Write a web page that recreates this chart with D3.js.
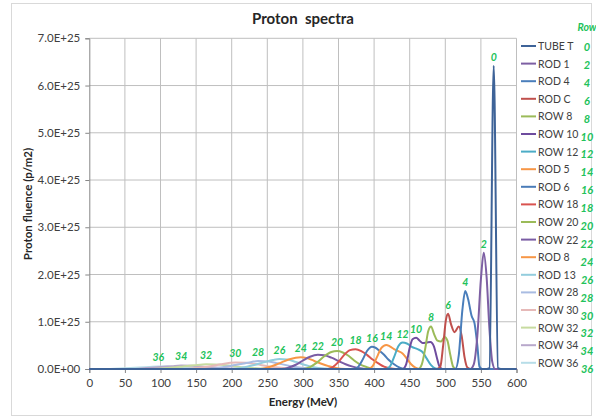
<!DOCTYPE html>
<html><head><meta charset="utf-8">
<script src="https://cdn.jsdelivr.net/npm/d3@7"></script>
<style>
body{margin:0;background:#fff;}
text{font-family:Lato,"Open Sans","Liberation Sans",sans-serif;}
</style></head>
<body><svg id="c" width="596" height="419"></svg>
<script>
// ---- data (energy MeV, fluence in units of 1E25 p/m2) ----
const seriesNames = ["TUBE T","ROD 1","ROD 4","ROD C","ROW 8","ROW 10","ROW 12","ROD 5","ROD 6","ROW 18","ROW 20","ROW 22","ROD 8","ROD 13","ROW 28","ROW 30","ROW 32","ROW 34","ROW 36"];
const rowNumbers = [0,2,4,6,8,10,12,14,16,18,20,22,24,26,28,30,32,34,36];
const seriesColors = ["#3E6398","#7D5FA3","#4A7EBB","#C0504D","#9BBB59","#6E4C9E","#4BACC6","#F79646","#4A7CB8","#D9534F","#9BBB59","#7A5CA4","#F79646","#93CDDD","#A9BCE2","#E6B9B8","#C7DBA0","#B8A8CB","#B7DDE8"];
const xTicks = [0,50,100,150,200,250,300,350,400,450,500,550,600];
const yTicks = [0,1e25,2e25,3e25,4e25,5e25,6e25,7e25];

const tubeT = [[0,0],[558,0],[562,0.02],[568,6.42],[574,0.02],[578,0],[600,0]];
const rod1 = [[0,0],[535,0],[540,0.1],[545,0.7],[550,1.9],[554,2.46],[558,1.95],[562,0.85],[566,0.15],[570,0],[600,0]];
const rod4 = [[0,0],[514,0],[519,0.3],[524,1.25],[528,1.65],[532,1.48],[537,1.12],[541,0.97],[545,0.5],[548,0.05],[552,0],[600,0]];
const rodC = [[0,0],[488,0],[493,0.05],[497,0.5],[501,1.05],[504,1.17],[508,0.95],[513,0.78],[519,0.9],[523,0.7],[527,0.25],[531,0.03],[535,0],[600,0]];
const row8 = [[0,0],[462,0],[467,0.1],[472,0.45],[476,0.8],[480,0.9],[484,0.75],[489,0.6],[494,0.58],[499,0.68],[503,0.6],[507,0.3],[511,0.05],[515,0],[600,0]];
const row10 = [[0,0],[440,0],[445,0.1],[450,0.45],[454,0.63],[459,0.66],[464,0.6],[468,0.55],[474,0.56],[479,0.57],[484,0.48],[488,0.25],[492,0.05],[496,0],[600,0]];
const row12 = [[0,0],[416,0],[422,0.05],[428,0.25],[434,0.48],[440,0.56],[446,0.54],[453,0.47],[461,0.42],[468,0.36],[474,0.22],[480,0.08],[486,0.01],[490,0],[600,0]];
const rod5 = [[0,0],[392,0],[398,0.06],[404,0.25],[410,0.44],[417,0.51],[422,0.48],[428,0.42],[434,0.38],[440,0.33],[446,0.22],[452,0.1],[458,0.03],[465,0],[600,0]];
const rod6 = [[0,0],[372,0],[378,0.05],[384,0.2],[390,0.38],[397,0.47],[402,0.45],[408,0.38],[414,0.3],[420,0.2],[428,0.1],[436,0.03],[444,0],[600,0]];
const row18 = [[0,0],[335,0],[342,0.04],[350,0.15],[358,0.3],[366,0.4],[374,0.42],[382,0.38],[390,0.3],[398,0.2],[406,0.12],[414,0.05],[422,0.015],[430,0],[600,0]];
const row20 = [[0,0],[300,0],[310,0.04],[320,0.14],[330,0.27],[340,0.36],[348,0.38],[356,0.35],[364,0.28],[372,0.18],[380,0.1],[390,0.04],[400,0],[600,0]];
const row22 = [[0,0],[270,0],[280,0.03],[290,0.09],[300,0.18],[310,0.26],[321,0.3],[330,0.29],[340,0.24],[350,0.17],[360,0.1],[370,0.05],[380,0.015],[390,0],[600,0]];
const rod8 = [[0,0],[240,0],[250,0.03],[260,0.08],[270,0.14],[280,0.2],[290,0.24],[297,0.25],[306,0.23],[316,0.17],[326,0.11],[336,0.06],[346,0.02],[360,0],[600,0]];
const rod13 = [[0,0],[200,0],[215,0.03],[230,0.08],[245,0.14],[258,0.19],[267,0.21],[278,0.2],[290,0.15],[302,0.09],[315,0.04],[330,0.01],[345,0],[600,0]];
const row28 = [[0,0],[170,0],[185,0.03],[200,0.07],[215,0.11],[228,0.15],[237,0.17],[252,0.16],[265,0.12],[280,0.07],[295,0.03],[310,0.01],[325,0],[600,0]];
const row30 = [[0,0],[130,0],[150,0.02],[170,0.06],[185,0.1],[198,0.13],[205,0.14],[220,0.13],[235,0.1],[250,0.06],[265,0.03],[280,0.01],[300,0],[600,0]];
const row32 = [[0,0],[90,0],[110,0.02],[130,0.05],[148,0.08],[164,0.1],[176,0.095],[192,0.08],[208,0.05],[225,0.025],[245,0.01],[265,0],[600,0]];
const row34 = [[0,0],[60,0],[80,0.02],[100,0.04],[116,0.06],[129,0.075],[144,0.07],[160,0.05],[178,0.03],[198,0.012],[220,0],[600,0]];
const row36 = [[0,0],[30,0],[50,0.015],[70,0.03],[85,0.045],[97,0.055],[112,0.05],[128,0.04],[146,0.025],[165,0.012],[190,0],[600,0]];
const seriesData = [tubeT,rod1,rod4,rodC,row8,row10,row12,rod5,rod6,row18,row20,row22,rod8,rod13,row28,row30,row32,row34,row36];

// ---- drawing ----
const svg = d3.select("#c");
const L = 89.3, R = 516.5, T = 38.3, B = 369;
const x = d3.scaleLinear().domain([0,600]).range([L,R]);
const y = d3.scaleLinear().domain([0,7e25]).range([B,T]);
const UNIT = 1e25;

svg.append("rect").attr("x",11.5).attr("y",3.5).attr("width",580).attr("height",412)
  .attr("fill","#fff").attr("stroke","#D9D9D9");

// gridlines
svg.append("g").selectAll("line.v").data(xTicks.slice(1)).join("line")
  .attr("x1",d=>x(d)).attr("x2",d=>x(d)).attr("y1",T).attr("y2",B)
  .attr("stroke","#BFBFBF").attr("stroke-width",1);
svg.append("g").selectAll("line.h").data(yTicks.slice(1)).join("line")
  .attr("x1",L).attr("x2",R).attr("y1",d=>y(d)).attr("y2",d=>y(d))
  .attr("stroke","#BFBFBF").attr("stroke-width",1);

// axes
const fmtY = v => v===0 ? "0.0E+00" : (v/UNIT).toFixed(1)+"E+25";
const yAxis = svg.append("g").attr("transform",`translate(${L},0)`)
  .call(d3.axisLeft(y).tickValues(yTicks).tickFormat(fmtY).tickSize(4).tickPadding(5));
const xAxis = svg.append("g").attr("transform",`translate(0,${B})`)
  .call(d3.axisBottom(x).tickValues(xTicks).tickSize(4).tickPadding(6));
[yAxis,xAxis].forEach(a=>{
  a.select(".domain").attr("stroke","#868686");
  a.selectAll(".tick line").attr("stroke","#868686");
  a.selectAll(".tick text").attr("fill","#404040").attr("font-size","11.5px")
   .attr("font-family","Lato,'Open Sans',sans-serif");
});

// series
const line = d3.line().x(d=>x(d[0])).y(d=>y(d[1]*UNIT)).curve(d3.curveMonotoneX);
const order = d3.range(seriesData.length).reverse();
svg.append("g").selectAll("path").data(order).join("path")
  .attr("d",i=>line(seriesData[i])).attr("fill","none")
  .attr("stroke",i=>seriesColors[i]).attr("stroke-width",2);

// peak labels
const green = "#22C25A";
svg.append("g").selectAll("text").data(seriesData).join("text")
  .each(function(d,i){
    const pk = d3.greatest(d, p=>p[1]);
    d3.select(this).attr("x",x(pk[0])).attr("y",y(pk[1]*UNIT)-5).text(rowNumbers[i]);
  })
  .attr("text-anchor","middle").attr("font-size","10.5px").attr("font-weight","bold")
  .attr("font-style","italic").attr("fill",green);

// legend
const lg = svg.append("g");
const ly0 = 46, lstep = 17.6, rstep = 17.9;
seriesNames.forEach((n,i)=>{
  const yy = ly0 + i*lstep;
  lg.append("line").attr("x1",521).attr("x2",536).attr("y1",yy).attr("y2",yy)
    .attr("stroke",seriesColors[i]).attr("stroke-width",2);
  lg.append("text").attr("x",538).attr("y",yy+4).text(n)
    .attr("font-size","10.5px").attr("fill","#404040");
  lg.append("text").attr("x",587).attr("y",ly0 + i*rstep+5).text(rowNumbers[i])
    .attr("text-anchor","middle").attr("font-size","11px").attr("font-weight","bold")
    .attr("font-style","italic").attr("fill",green);
});
lg.append("text").attr("x",587).attr("y",31).text("Row").attr("text-anchor","middle")
  .attr("font-size","10.5px").attr("font-weight","bold").attr("font-style","italic").attr("fill",green);

// titles
svg.append("text").attr("x",303).attr("y",24).attr("text-anchor","middle")
  .style("white-space","pre").attr("font-size","15px").attr("font-weight","bold")
  .attr("fill","#262626").text("Proton  spectra");
svg.append("text").attr("x",303).attr("y",406).attr("text-anchor","middle")
  .attr("font-size","11.5px").attr("font-weight","bold").attr("fill","#262626").text("Energy (MeV)");
svg.append("text").attr("transform","translate(32,204) rotate(-90)").attr("text-anchor","middle")
  .attr("font-size","11.5px").attr("font-weight","bold").attr("fill","#262626").text("Proton fluence (p/m2)");
</script></body></html>
